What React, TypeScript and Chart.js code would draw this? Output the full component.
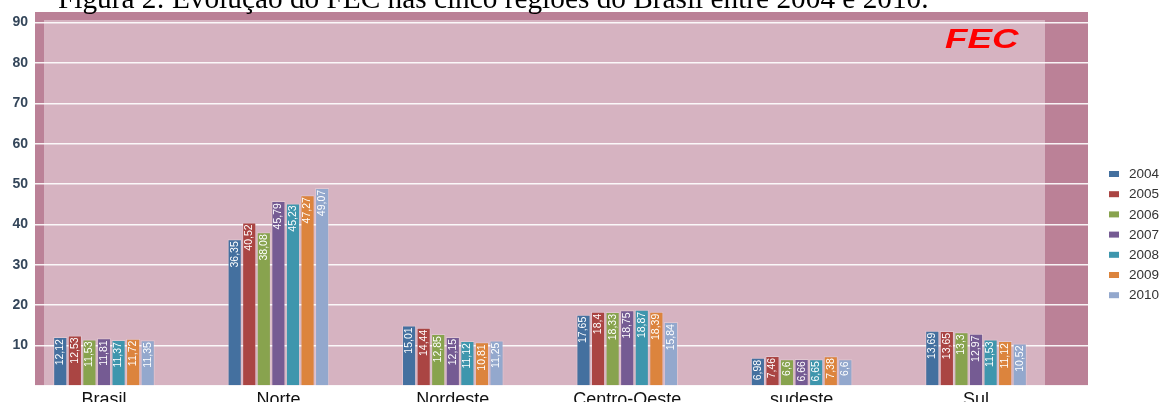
import React, { useEffect, useRef } from 'react';
import { Chart, registerables } from 'chart.js';

Chart.register(...registerables);

const caption = 'Figura 2: Evolução do FEC nas cinco regiões do Brasil entre 2004 e 2010.';
const chartTitle = 'FEC';
const categories = ['Brasil', 'Norte', 'Nordeste', 'Centro-Oeste', 'sudeste', 'Sul'];
const years = ['2004', '2005', '2006', '2007', '2008', '2009', '2010'];
const fec2004 = [12.12, 36.35, 15.01, 17.65, 6.98, 13.69];
const fec2005 = [12.53, 40.52, 14.44, 18.4, 7.46, 13.65];
const fec2006 = [11.53, 38.08, 12.85, 18.33, 6.6, 13.3];
const fec2007 = [11.81, 45.79, 12.15, 18.75, 6.66, 12.97];
const fec2008 = [11.37, 45.23, 11.12, 18.87, 6.65, 11.53];
const fec2009 = [11.72, 47.27, 10.81, 18.39, 7.38, 11.12];
const fec2010 = [11.35, 49.07, 11.25, 15.84, 6.6, 10.52];
const yTickValues = [0, 10, 20, 30, 40, 50, 60, 70, 80, 90];

const seriesValues = [fec2004, fec2005, fec2006, fec2007, fec2008, fec2009, fec2010];
const seriesColors = ['#44709f', '#aa4543', '#88a34e', '#755b93', '#3e96ad', '#dc843d', '#93a8cd'];

const DARK_BG = '#bb8197';
const LIGHT_BG = '#d6b3c1';

const backgroundPlugin = {
  id: 'panelBackground',
  beforeDraw(chart: any) {
    const { ctx, chartArea: a } = chart;
    ctx.save();
    ctx.fillStyle = DARK_BG;
    ctx.fillRect(a.left, a.top, a.right - a.left, a.bottom - a.top);
    ctx.fillStyle = LIGHT_BG;
    ctx.fillRect(a.left + 9, a.top + 8, a.right - a.left - 9 - 43, a.bottom - a.top - 8);
    ctx.restore();
  },
};

const valueLabelPlugin = {
  id: 'valueLabels',
  afterDatasetsDraw(chart: any) {
    const ctx = chart.ctx;
    ctx.save();
    ctx.font = '10.5px "Liberation Sans", Arial, sans-serif';
    ctx.fillStyle = '#ffffff';
    ctx.textAlign = 'right';
    ctx.textBaseline = 'middle';
    chart.data.datasets.forEach((ds: any, di: number) => {
      const meta = chart.getDatasetMeta(di);
      meta.data.forEach((bar: any, i: number) => {
        const v = ds.data[i].y;
        const label = String(v).replace('.', ',');
        ctx.save();
        ctx.translate(bar.x, bar.y + 2);
        ctx.rotate(-Math.PI / 2);
        ctx.fillText(label, 0, 0);
        ctx.restore();
      });
    });
    ctx.restore();
  },
};

const legendAndTitlePlugin = {
  id: 'legendAndTitle',
  afterDraw(chart: any) {
    const { ctx, chartArea: a } = chart;
    ctx.save();
    ctx.fillStyle = '#ff0000';
    ctx.font = 'italic bold 27px "Liberation Sans", Arial, sans-serif';
    ctx.textBaseline = 'alphabetic';
    ctx.textAlign = 'left';
    ctx.translate(a.right - 143, a.top + 36);
    ctx.scale(1.36, 1);
    ctx.fillText(chartTitle, 0, 0);
    ctx.restore();

    ctx.save();
    ctx.font = '13.5px "Liberation Sans", Arial, sans-serif';
    ctx.textAlign = 'left';
    ctx.textBaseline = 'middle';
    const lx = a.right + 21;
    const ly0 = a.top + 162;
    chart.data.datasets.forEach((ds: any, i: number) => {
      const y = ly0 + i * 20.2;
      ctx.fillStyle = ds.backgroundColor;
      ctx.fillRect(lx, y - 3, 10, 6);
      ctx.fillStyle = '#333333';
      ctx.fillText(ds.label, lx + 20, y + 0.5);
    });
    ctx.restore();
  },
};

export default function App() {
  const canvasRef = useRef<HTMLCanvasElement | null>(null);

  useEffect(() => {
    if (!canvasRef.current) return;
    const datasets = years.map((yr, si) => ({
      label: yr,
      data: seriesValues[si].map((v, i) => ({ x: i, y: v })),
      backgroundColor: seriesColors[si],
      borderColor: 'rgba(255,255,255,0.25)',
      borderWidth: 1,
      categoryPercentage: 0.585,
      barPercentage: 0.97,
    }));

    const chart = new Chart(canvasRef.current, {
      type: 'bar',
      data: { datasets },
      options: {
        animation: false,
        responsive: false,
        devicePixelRatio: 1,
        layout: { padding: { top: 12, right: 73, left: 0, bottom: 0 } },
        plugins: {
          legend: { display: false },
          title: { display: false },
          tooltip: { enabled: false },
        },
        scales: {
          x: {
            type: 'linear',
            offset: false,
            min: -0.3956,
            max: 5.642,
            grid: { display: false, offset: false },
            border: { display: false },
            afterBuildTicks: (scale: any) => {
              scale.ticks = categories.map((_, i) => ({ value: i }));
            },
            afterFit: (scale: any) => {
              scale.height = 16;
            },
            ticks: {
              autoSkip: false,
              maxRotation: 0,
              padding: -5,
              color: '#111111',
              font: { family: '"Liberation Sans", Arial, sans-serif', size: 18 },
              callback: (v: any) => categories[v] ?? '',
            },
          },
          y: {
            type: 'linear',
            min: 0,
            max: 92.63,
            grid: {
              color: 'rgba(255,255,255,0.9)',
              lineWidth: 1.5,
              tickLength: 4,
              drawTicks: true,
            },
            border: { display: false },
            afterBuildTicks: (scale: any) => {
              scale.ticks = yTickValues.map((v) => ({ value: v }));
            },
            afterFit: (scale: any) => {
              scale.width = 35;
            },
            ticks: {
              padding: 3,
              color: '#34465a',
              font: { family: '"Liberation Sans", Arial, sans-serif', size: 14, weight: 'bold' },
              callback: (v: any) => (v === 0 ? '' : String(v)),
            },
          },
        },
      },
      plugins: [backgroundPlugin, valueLabelPlugin, legendAndTitlePlugin],
    } as any);

    return () => chart.destroy();
  }, []);

  return (
    <div style={{ position: 'absolute', left: 0, top: 0, width: 1161, height: 402, overflow: 'hidden', background: '#fff' }}>
      <canvas ref={canvasRef} width={1161} height={402} style={{ position: 'absolute', left: 0, top: 0 }} />
      <div
        style={{
          position: 'absolute',
          left: 58,
          top: -16,
          fontFamily: '"Liberation Serif", "Times New Roman", serif',
          fontSize: 29.3,
          lineHeight: 1,
          whiteSpace: 'nowrap',
          color: '#000',
        }}
      >
        {caption}
      </div>
    </div>
  );
}
